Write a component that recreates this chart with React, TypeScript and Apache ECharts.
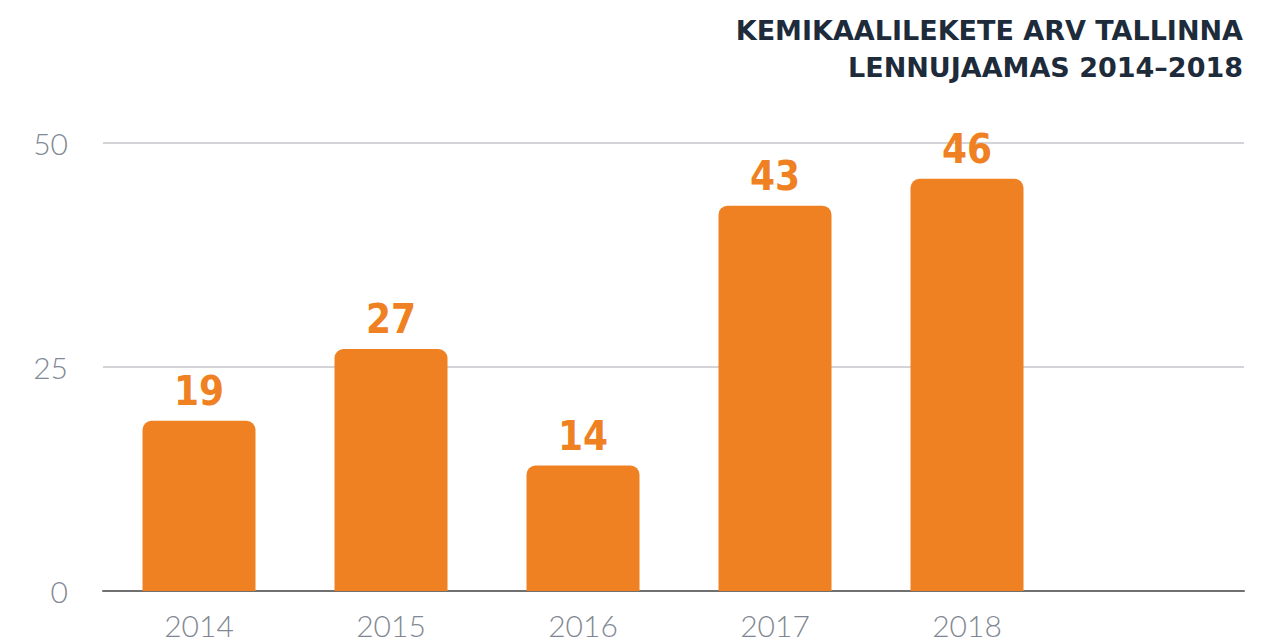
import React, { useEffect, useRef } from "react";
import * as echarts from "echarts";

const titleLines = ["KEMIKAALILEKETE ARV TALLINNA", "LENNUJAAMAS 2014–2018"];
const years = ["2014", "2015", "2016", "2017", "2018", ""];
const incidents = [19, 27, 14, 43, 46];
const yTicks = { min: 0, max: 50, interval: 25 };

export default function App() {
  const ref = useRef<HTMLDivElement>(null);
  useEffect(() => {
    const chart = echarts.init(ref.current!, null, { renderer: "svg" });
    chart.setOption({
      animation: false,
      graphic: [
        {
          type: "text",
          right: 35,
          top: 12,
          style: {
            text: titleLines.join("\n"),
            textAlign: "right",
            fontFamily: "DejaVu Sans",
            fontWeight: "bold",
            fontSize: 27,
            lineHeight: 37,
            fill: "#1d2b3a",
          },
        },
      ],
      grid: [
        { left: 103, right: 34, top: 143, bottom: 52 },
        { left: 103, right: 23, top: 143, bottom: 52 },
      ],
      xAxis: [
        {
          type: "category",
          gridIndex: 0,
          data: years,
          axisLine: { show: true, lineStyle: { color: "#707070", width: 2 } },
          axisTick: { show: false },
          axisLabel: { show: false },
        },
        {
          type: "category",
          gridIndex: 1,
          data: years,
          axisLine: { show: false },
          axisTick: { show: false },
          axisLabel: {
            margin: 19,
            fontFamily: "Lato",
            fontWeight: 300,
            fontSize: 30,
            color: "#7f8893",
          },
        },
      ],
      yAxis: [
        {
          type: "value",
          gridIndex: 0,
          min: yTicks.min,
          max: yTicks.max,
          interval: yTicks.interval,
          axisLine: { show: false },
          axisTick: { show: false },
          splitLine: { show: true, lineStyle: { color: "#d3d5d9", width: 2 } },
          axisLabel: {
            margin: 35,
            fontFamily: "Lato",
            fontWeight: 300,
            fontSize: 30,
            color: "#7f8893",
          },
        },
        {
          type: "value",
          gridIndex: 1,
          min: yTicks.min,
          max: yTicks.max,
          interval: yTicks.interval,
          show: false,
          splitLine: { show: false },
        },
      ],
      series: [
        {
          type: "bar",
          xAxisIndex: 1,
          yAxisIndex: 1,
          data: incidents,
          barWidth: 113,
          itemStyle: { color: "#f08122", borderRadius: [9, 9, 0, 0] },
          label: {
            show: true,
            position: "top",
            distance: 10,
            fontFamily: "DejaVu Sans Condensed",
            fontWeight: "bold",
            fontSize: 40,
            color: "#f08122",
          },
        },
      ],
    });
    return () => chart.dispose();
  }, []);
  return <div ref={ref} style={{ width: 1278, height: 643, position: "absolute", left: 0, top: 0 }} />;
}
